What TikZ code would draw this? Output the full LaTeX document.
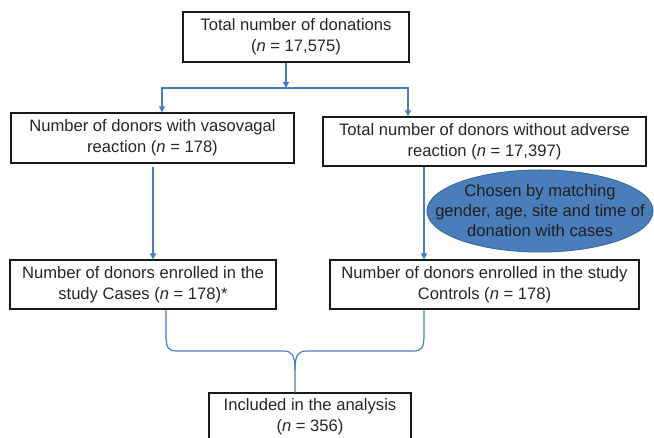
\documentclass[tikz,border=0pt]{standalone}
\usepackage{fontspec}
\setmainfont{Liberation Sans}
\usetikzlibrary{arrows.meta,shapes.geometric}
\definecolor{linkblue}{HTML}{4A7EBB}
\definecolor{ellfill}{HTML}{4A7EBB}
\definecolor{ellline}{HTML}{3C6A9E}
\definecolor{txt}{HTML}{262626}
\begin{document}
\begin{tikzpicture}[x=1pt,y=-1pt,
  box/.style={draw=black!90, line width=1.2pt, rectangle, inner sep=0pt, align=center, text=txt, font=\fontsize{16.6}{21}\selectfont},
  conn/.style={draw=linkblue, line width=1.2pt},
  arr/.style={conn, -{Triangle[length=6pt,width=6pt]}},
  ellshape/.style={ellipse, fill=ellfill, draw=ellline, line width=1pt, minimum width=226pt, minimum height=82pt, inner sep=0pt},
  elltext/.style={inner sep=0pt, align=center, text=black!88, font=\fontsize{16.6}{20}\selectfont}
]
\useasboundingbox (0,0) rectangle (654,438);
\clip (0,0) rectangle (654,438);

\node[box, minimum width=226pt, minimum height=50pt] (top) at (296,37) {Total number of donations\\(\textit{n} = 17,575)};
\node[box, minimum width=283pt, minimum height=50pt] (vaso) at (152.5,138) {Number of donors with vasovagal\\reaction (\textit{n} = 178)};
\node[box, minimum width=323pt, minimum height=49pt] (noadv) at (484.5,141.5) {Total number of donors without adverse\\reaction (\textit{n} = 17,397)};
\node[box, minimum width=266pt, minimum height=49pt] (cases) at (143,284.5) {Number of donors enrolled in the\\study Cases (\textit{n} = 178)*};
\node[box, minimum width=309pt, minimum height=49pt] (controls) at (484.5,284.5) {Number of donors enrolled in the study\\Controls (\textit{n} = 178)};
\node[box, minimum width=202pt, minimum height=48pt] (incl) at (310,417) {Included in the analysis\\(\textit{n} = 356)};

\node[ellshape] (match) at (540,211) {};
\node[elltext] (matchtext) at (match.center) {Chosen by matching\\gender, age, site and time of\\donation with cases};

\coordinate (j) at (286,88);
\coordinate (jl) at (162,88);
\coordinate (jr) at (408,88);
\draw[arr] (top.south -| j) -- (j);
\draw[arr] (j) -| (jl |- vaso.north);
\draw[arr] (j) -| (jr |- noadv.north);

\coordinate (cl) at (153,0);
\coordinate (cr) at (424,0);
\draw[arr] ([yshift=-3pt]vaso.south -| cl) -- (cases.north -| cl);
\draw[arr] (noadv.south -| cr) -- (controls.north -| cr);

\coordinate (bl) at (166,0);
\coordinate (br) at (424,0);
\coordinate (bm) at (295,0);
\draw[conn] (cases.south -| bl) -- (166,334) .. controls (166,348) and (168,351) .. (177,351) -- (283,351) .. controls (292,351) and (295,355) .. (295,370) -- (incl.north -| bm);
\draw[conn] (controls.south -| br) -- (424,334) .. controls (424,348) and (422,351) .. (413,351) -- (307,351) .. controls (298,351) and (295,355) .. (295,370);
\end{tikzpicture}
\end{document}
